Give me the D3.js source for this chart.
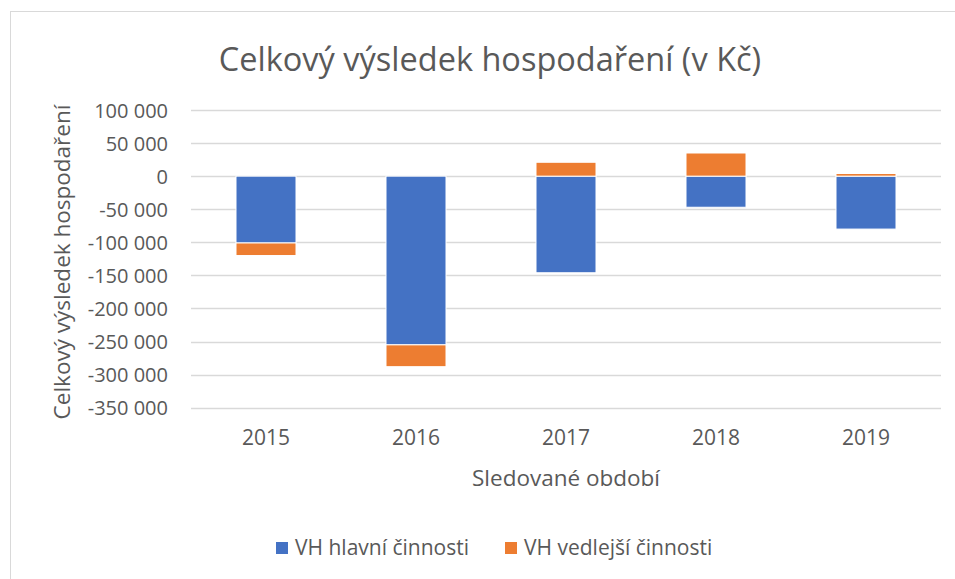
<!DOCTYPE html>
<html>
<head>
<meta charset="utf-8">
<script src="https://cdn.jsdelivr.net/npm/d3@7"></script>
<style>
  html, body { margin: 0; padding: 0; background: #fff; }
  svg { display: block; }
  text { font-family: "Open Sans", "Noto Sans", sans-serif; fill: #595959; }
</style>
</head>
<body>
<svg id="chart" width="955" height="579"></svg>
<script>
const categories = ["2015", "2016", "2017", "2018", "2019"];
const seriesNames = ["VH hlavní činnosti", "VH vedlejší činnosti"];
const mainValues = [-101000, -255000, -146000, -47000, -80000];
const sideValues = [-19000, -33000, 21000, 35000, 4000];
const yTicks = [100000, 50000, 0, -50000, -100000, -150000, -200000, -250000, -300000, -350000];
const colors = ["#4472C4", "#ED7D31"];

const title = "Celkový výsledek hospodaření (v Kč)";
const yTitle = "Celkový výsledek hospodaření";
const xTitle = "Sledované období";

const svg = d3.select("#chart");

// chart frame
svg.append("rect")
  .attr("x", 10.5).attr("y", 11.5)
  .attr("width", 980).attr("height", 620)
  .attr("fill", "#fff").attr("stroke", "#d9d9d9").attr("stroke-width", 1);

const plot = { left: 191, right: 941, top: 110, bottom: 407.7 };

const x = d3.scaleBand()
  .domain(categories)
  .range([plot.left, plot.right])
  .paddingInner(0.6).paddingOuter(0.3);

const y = d3.scaleLinear()
  .domain([-350000, 100000])
  .range([plot.bottom, plot.top]);

// grid
svg.append("g")
  .selectAll("line")
  .data(yTicks)
  .join("line")
  .attr("x1", plot.left).attr("x2", plot.right)
  .attr("y1", d => Math.round(y(d)) + 0.5).attr("y2", d => Math.round(y(d)) + 0.5)
  .attr("stroke", "#d9d9d9").attr("stroke-width", 1.3);

// y axis labels
const fmt = v => {
  const s = Math.abs(v).toString().replace(/\B(?=(\d{3})+(?!\d))/g, " ");
  return (v < 0 ? "-" : "") + s;
};
const yAxis = d3.axisLeft(y).tickValues(yTicks).tickFormat(fmt).tickSize(0).tickPadding(0);
const yg = svg.append("g").attr("transform", `translate(${plot.left - 23},0)`).call(yAxis);
yg.select(".domain").remove();
yg.selectAll("text").style("font-size", "20px").attr("fill", "#595959")
  .style("font-family", "'Open Sans', sans-serif").attr("dy", "0.35em");

// stacked data
const rows = categories.map((c, i) => ({ cat: c, main: mainValues[i], side: sideValues[i] }));
const stack = d3.stack().keys(["main", "side"]).offset(d3.stackOffsetDiverging);
const stacked = stack(rows);

svg.append("g")
  .selectAll("g")
  .data(stacked)
  .join("g")
  .attr("fill", (d, i) => colors[i])
  .selectAll("rect")
  .data(d => d)
  .join("rect")
  .attr("x", d => x(d.data.cat))
  .attr("width", x.bandwidth())
  .attr("y", d => y(Math.max(d[0], d[1])))
  .attr("height", d => Math.abs(y(d[0]) - y(d[1])))
  .attr("stroke", "#fff").attr("stroke-width", 1);

// x axis labels
const xAxis = d3.axisBottom(x).tickSize(0).tickPadding(0);
const xg = svg.append("g").attr("transform", `translate(0,${plot.bottom + 30})`).call(xAxis);
xg.select(".domain").remove();
xg.selectAll("text").style("font-size", "21px").attr("fill", "#595959")
  .style("font-family", "'Open Sans', sans-serif").attr("dy", "0.35em");

// titles
svg.append("text")
  .attr("x", 490).attr("y", 71)
  .attr("text-anchor", "middle")
  .style("font-size", "32.5px")
  .text(title);

svg.append("text")
  .attr("x", 566).attr("y", 478)
  .attr("dy", "0.35em")
  .attr("text-anchor", "middle")
  .style("font-size", "22.5px")
  .text(xTitle);

svg.append("text")
  .attr("transform", `translate(62,262) rotate(-90)`)
  .attr("dy", "0.35em")
  .attr("text-anchor", "middle")
  .style("font-size", "22.5px")
  .text(yTitle);

// legend
const legendX = [276, 505];
const lg = svg.append("g");
seriesNames.forEach((name, i) => {
  lg.append("rect")
    .attr("x", legendX[i]).attr("y", 542)
    .attr("width", 12).attr("height", 12)
    .attr("fill", colors[i]);
  lg.append("text")
    .attr("x", legendX[i] + 19).attr("y", 548)
    .attr("dy", "0.35em")
    .style("font-size", "21px")
    .text(name);
});
</script>
</body>
</html>
